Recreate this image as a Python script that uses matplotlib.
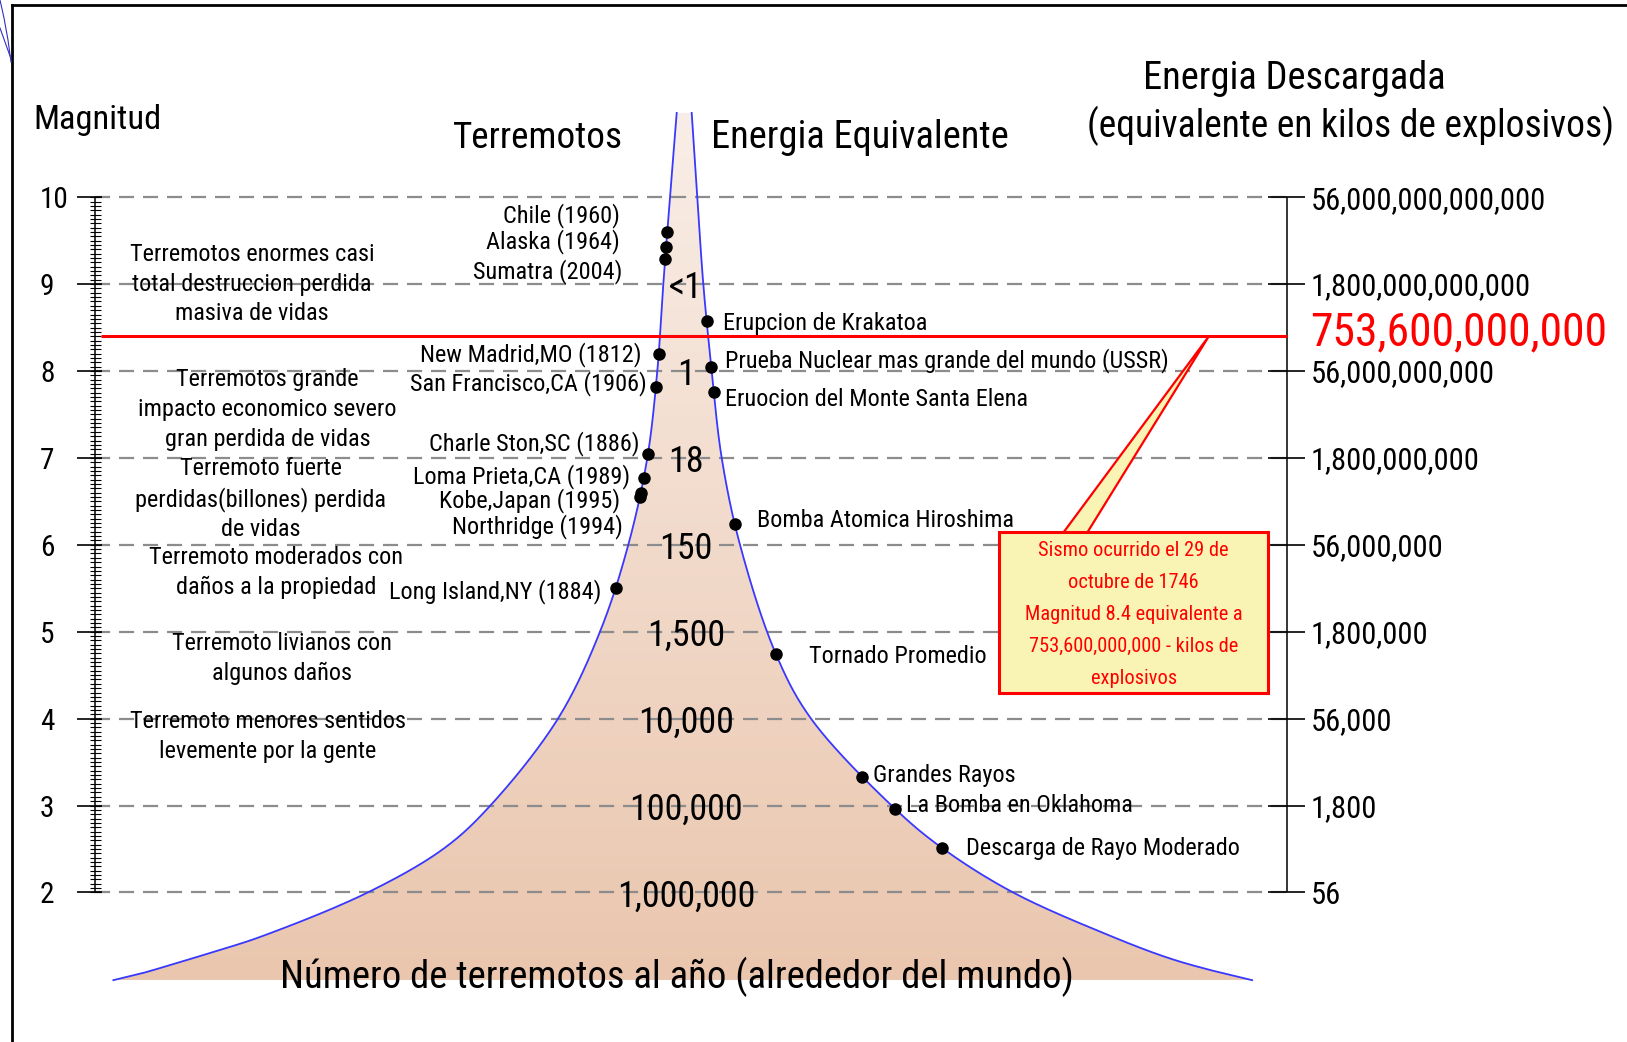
import numpy as np
import matplotlib
matplotlib.use("Agg")
import matplotlib.pyplot as plt
from matplotlib import font_manager as fm
from matplotlib.patches import Polygon, Rectangle

# pick the narrowest sans family that is installed
_names = {f.name for f in fm.fontManager.ttflist}
FAM, STRETCH = None, 'normal'
for cand in ['Liberation Sans Narrow', 'Arial Narrow', 'Roboto Condensed',
             'Noto Sans Condensed', 'Open Sans Condensed']:
    if cand in _names:
        FAM = cand
        break
if FAM is None:
    for f in fm.fontManager.ttflist:
        st = str(f.stretch)
        if st in ('condensed', 'semi-condensed', 'extra-condensed') and f.style == 'normal' \
                and f.name in ('Noto Sans', 'Open Sans', 'Roboto'):
            FAM, STRETCH = f.name, st
            break
if FAM is None:
    FAM = 'Liberation Sans'
plt.rcParams['font.family'] = [FAM, 'Liberation Sans', 'DejaVu Sans']
plt.rcParams['font.stretch'] = STRETCH

# ---------------- data ----------------
magnitudes = [10, 9, 8, 7, 6, 5, 4, 3, 2]
energy_kg = ['56,000,000,000,000', '1,800,000,000,000', '56,000,000,000',
             '1,800,000,000', '56,000,000', '1,800,000', '56,000', '1,800', '56']

count_mags = [9, 8, 7, 6, 5, 4, 3, 2]
count_labels = ['<1', '1', '18', '150', '1,500', '10,000', '100,000', '1,000,000']

quake_names = ['Chile (1960)', 'Alaska (1964)', 'Sumatra (2004)',
               'New Madrid,MO (1812)', 'San Francisco,CA (1906)',
               'Charle Ston,SC (1886)', 'Loma Prieta,CA (1989)',
               'Kobe,Japan (1995)', 'Northridge (1994)', 'Long Island,NY (1884)']
quake_mags = [9.60, 9.43, 9.29, 8.20, 7.82, 7.04, 6.77, 6.60, 6.55, 5.50]

energy_names = ['Erupcion de Krakatoa', 'Prueba Nuclear mas grande del mundo (USSR)',
                'Eruocion del Monte Santa Elena', 'Bomba Atomica Hiroshima',
                'Tornado Promedio', 'Grandes Rayos', 'La Bomba en Oklahoma',
                'Descarga de Rayo Moderado']
energy_mags = [8.58, 8.05, 7.76, 6.24, 4.74, 3.33, 2.96, 2.51]

descriptions = ['Terremotos enormes casi\ntotal destruccion perdida\nmasiva de vidas',
                'Terremotos grande\nimpacto economico severo\ngran perdida de vidas',
                'Terremoto fuerte\nperdidas(billones) perdida\nde vidas',
                'Terremoto moderados con\ndaños a la propiedad',
                'Terremoto livianos con\nalgunos daños',
                'Terremoto menores sentidos\nlevemente por la gente']

# funnel outline (magnitude, half width)
funnel_left_mag = [0.99, 1.07, 1.16, 1.32, 1.49, 2.0, 2.51, 3.0, 4.0,
                   5.0, 6.0, 7.0, 8.0, 9.0, 10.0, 10.97]
funnel_left_hw = [572.6, 543.9, 517.1, 471.2, 425.3, 318.1, 241.6, 195.6, 128,
                  86, 57.7, 38.7, 28.7, 22.7, 16, 9.3]
funnel_right_mag = [0.99, 1.09, 1.24, 1.49, 2.0, 2.51, 2.97, 4.0, 4.74,
                    6.0, 7.0, 8.0, 9.0, 10.0, 10.97]
funnel_right_hw = [566.1, 529.8, 483.9, 426.4, 327, 256.2, 208.3, 125, 90,
                   54, 35.7, 25.7, 17.3, 11.3, 5.7]

event_mag = 8.4
event_energy = '753,600,000,000'
event_note = ('Sismo ocurrido el 29 de\noctubre de 1746\nMagnitud 8.4 equivalente a\n'
              '753,600,000,000 - kilos de\nexplosivos')

# ---------------- layout ----------------
W, H, DPI = 1627, 1042, 100
S = W / 1568.0                 # reference preview -> full size
PX_PER_MAG, Y10 = 86.9, 197.2


def Y(py):                      # full-size pixel row -> magnitude
    return 10 - (py - Y10) / PX_PER_MAG


def YS(ys):
    return Y(ys * S)


def XS(xs):
    return xs * S


def smooth_curve(P, steps=40, alpha=0.5):
    """Centripetal Catmull-Rom curve through the points P (x px, y magnitude)."""
    Q = np.asarray(P, float) * [1.0, PX_PER_MAG]
    Q = np.vstack([2 * Q[0] - Q[1], Q, 2 * Q[-1] - Q[-2]])
    out = [Q[1]]
    for i in range(1, len(Q) - 2):
        p0, p1, p2, p3 = Q[i - 1], Q[i], Q[i + 1], Q[i + 2]
        t0 = 0.0
        t1 = t0 + np.linalg.norm(p1 - p0) ** alpha
        t2 = t1 + np.linalg.norm(p2 - p1) ** alpha
        t3 = t2 + np.linalg.norm(p3 - p2) ** alpha
        t = np.linspace(t1, t2, steps)[1:, None]
        a1 = (t1 - t) / (t1 - t0) * p0 + (t - t0) / (t1 - t0) * p1
        a2 = (t2 - t) / (t2 - t1) * p1 + (t - t1) / (t2 - t1) * p2
        a3 = (t3 - t) / (t3 - t2) * p2 + (t - t2) / (t3 - t2) * p3
        b1 = (t2 - t) / (t2 - t0) * a1 + (t - t0) / (t2 - t0) * a2
        b2 = (t3 - t) / (t3 - t1) * a2 + (t - t1) / (t3 - t1) * a3
        out.extend((t2 - t) / (t2 - t1) * b1 + (t - t1) / (t2 - t1) * b2)
    out = np.array(out)
    out[:, 1] /= PX_PER_MAG
    return out


fig = plt.figure(figsize=(W / DPI, H / DPI), dpi=DPI)
ax = fig.add_axes([0, 0, 1, 1])
ax.axis('off')

C = 686.0
Lc = smooth_curve(np.column_stack([C - np.array(funnel_left_hw), funnel_left_mag]))
Rc = smooth_curve(np.column_stack([C + np.array(funnel_right_hw), funnel_right_mag]))
lx, lm = Lc[:, 0], Lc[:, 1]
rx, rm = Rc[:, 0], Rc[:, 1]

poly = Polygon(list(zip(lx, lm)) + list(zip(rx[::-1], rm[::-1])), closed=True,
               facecolor='none', edgecolor='none')
ax.add_patch(poly)
g = np.linspace(0, 1, 256)[:, None, None]
c_top = np.array([249, 238, 231]) / 255.0
c_bot = np.array([234, 198, 174]) / 255.0
img = c_bot + (c_top - c_bot) * g
im = ax.imshow(img, extent=(lx.min(), rx.max(), lm.min(), lm.max()),
               origin='lower', aspect='auto', interpolation='bilinear', zorder=1)
im.set_clip_path(poly)
ax.plot(lx, lm, color='#3838ff', lw=1.3, zorder=3)
ax.plot(rx, rm, color='#3838ff', lw=1.3, zorder=3)

# grid
XL, XR = 95.5, 1287.0
ax.hlines(magnitudes, XL, XR, colors='#8c8c8c', lw=1.6, linestyles=(0, (6.8, 4.0)), zorder=2)

# left axis
ax.vlines(XL, 2, 10, color='black', lw=1.1, zorder=3)
ax.hlines(magnitudes, 77, 102, color='black', lw=1.2, zorder=3)
ax.hlines(np.arange(2, 10.001, 0.05), 90, 101, color='black', lw=0.8, zorder=3)
# right axis
ax.vlines(XR, 2, 10, color='black', lw=1.1, zorder=3)
ax.hlines(magnitudes, 1268, 1305, color='black', lw=1.2, zorder=3)

# red event line
ax.hlines(event_mag, 101, XR, color='#ff0000', lw=2.2, zorder=3)

fits = []

left_ticks = [ax.text(40, m, str(m), ha='left', va='center_baseline', fontsize=22, zorder=4)
              for m in magnitudes]
fits.append((left_ticks, 29))
right_ticks = [ax.text(1310.5, m, s, ha='left', va='center_baseline', fontsize=22, zorder=4)
               for m, s in zip(magnitudes, energy_kg)]
fits.append((right_ticks, 236))
red = ax.text(1310.5, YS(333), event_energy, ha='left', va='baseline', color='#ff0000',
              fontsize=34, zorder=4)
fits.append(([red], 297))

counts = [ax.text(C, m, s, ha='center', va='center_baseline', fontsize=26, zorder=4)
          for m, s in zip(count_mags, count_labels)]
fits.append(([counts[-1]] + counts[:-1], 138))

# event dots, placed on the funnel outline
qx = np.interp(quake_mags, lm, lx)
ex = np.interp(energy_mags, rm, rx)
ax.plot(qx, quake_mags, 'o', color='black', ms=8, zorder=5)
ax.plot(ex, energy_mags, 'o', color='black', ms=8, zorder=5)

quake_pos = [(597, 208), (597, 233), (600, 262), (618, 342), (623, 370), (616, 427),
             (607, 459), (598, 482), (600, 507), (580, 570)]
q_txt = [ax.text(XS(px), YS(py), s, ha='right', va='center', fontsize=18, zorder=4)
         for s, (px, py) in zip(quake_names, quake_pos)]
energy_pos = [(697, 312), (699, 347), (699, 385), (730, 502), (780, 633), (841, 747),
              (873, 776), (931, 818)]
e_txt = [ax.text(XS(px), YS(py), s, ha='left', va='center', fontsize=18, zorder=4)
         for s, (px, py) in zip(energy_names, energy_pos)]
desc_pos = [(243, 274), (258, 394.5), (251, 481), (266, 551.5), (272, 634.5), (258, 710)]
d_txt = [ax.text(XS(px), YS(py), s, ha='center', va='center', fontsize=18,
                 linespacing=1.37, zorder=4)
         for s, (px, py) in zip(descriptions, desc_pos)]
fits.append(([q_txt[4]] + q_txt[:4] + q_txt[5:] + e_txt + d_txt, 236))

# headers
h1 = ax.text(33, Y(129.3), 'Magnitud', ha='left', va='baseline', fontsize=28)
h2 = ax.text(537.5, Y(148.3), 'Terremotos', ha='center', va='baseline', fontsize=28)
h3 = ax.text(710.8, Y(147.7), 'Energia Equivalente', ha='left', va='baseline', fontsize=28)
h4 = ax.text(1294, Y(89.3), 'Energia Descargada', ha='center', va='baseline', fontsize=28)
h5 = ax.text(1351, Y(136.7), '(equivalente en kilos de explosivos)', ha='center',
             va='baseline', fontsize=28)
for t, w in [(h1, 128), (h2, 170), (h3, 297), (h4, 302), (h5, 527)]:
    fits.append(([t], w))
bt = ax.text(676.5, YS(952), 'Número de terremotos al año (alrededor del mundo)',
             ha='center', va='baseline', fontsize=30, zorder=4)
fits.append(([bt], 795))

# callout
bx0, bx1, by0, by1 = XS(963), XS(1222), YS(668), YS(513)
wedge = Polygon([(XS(1025), by1), (XS(1165), event_mag), (XS(1048), by1)], closed=True,
                facecolor='#faf4b4', edgecolor='#ff0000', lw=1.6, zorder=6)
ax.add_patch(wedge)
ax.add_patch(Rectangle((bx0, by0), bx1 - bx0, by1 - by0, facecolor='#faf4b4',
                       edgecolor='#ff0000', lw=2.2, zorder=6))
note = ax.text((bx0 + bx1) / 2, (by0 + by1) / 2 - 0.02, event_note, ha='center', va='center',
               color='#ff0000', fontsize=16, linespacing=1.87, zorder=7)
fits.append(([note], 218))

# slide frame
ax.plot([12.5, 12.5], [Y(5.2), Y(H + 5)], color='black', lw=2.0, clip_on=False, zorder=8)
ax.plot([12.5, W + 5], [Y(5.2), Y(5.2)], color='black', lw=2.0, clip_on=False, zorder=8)
ax.plot([0, 4, 8, 11], [Y(0), Y(18), Y(40), Y(62)], color='#3030c0', lw=0.8, zorder=8)
ax.plot([0, 5, 10], [Y(28), Y(42), Y(56)], color='#3030c0', lw=0.8, zorder=8)

ax.set_xlim(0, W)
ax.set_ylim(Y(H), Y(0))

# scale fonts so that text widths match the reference
fig.canvas.draw()
rend = fig.canvas.get_renderer()
for group, target in fits:
    w = group[0].get_window_extent(rend).width
    k = target / w
    for t in group:
        t.set_fontsize(t.get_fontsize() * k)

fig.savefig('out.png', dpi=DPI)
